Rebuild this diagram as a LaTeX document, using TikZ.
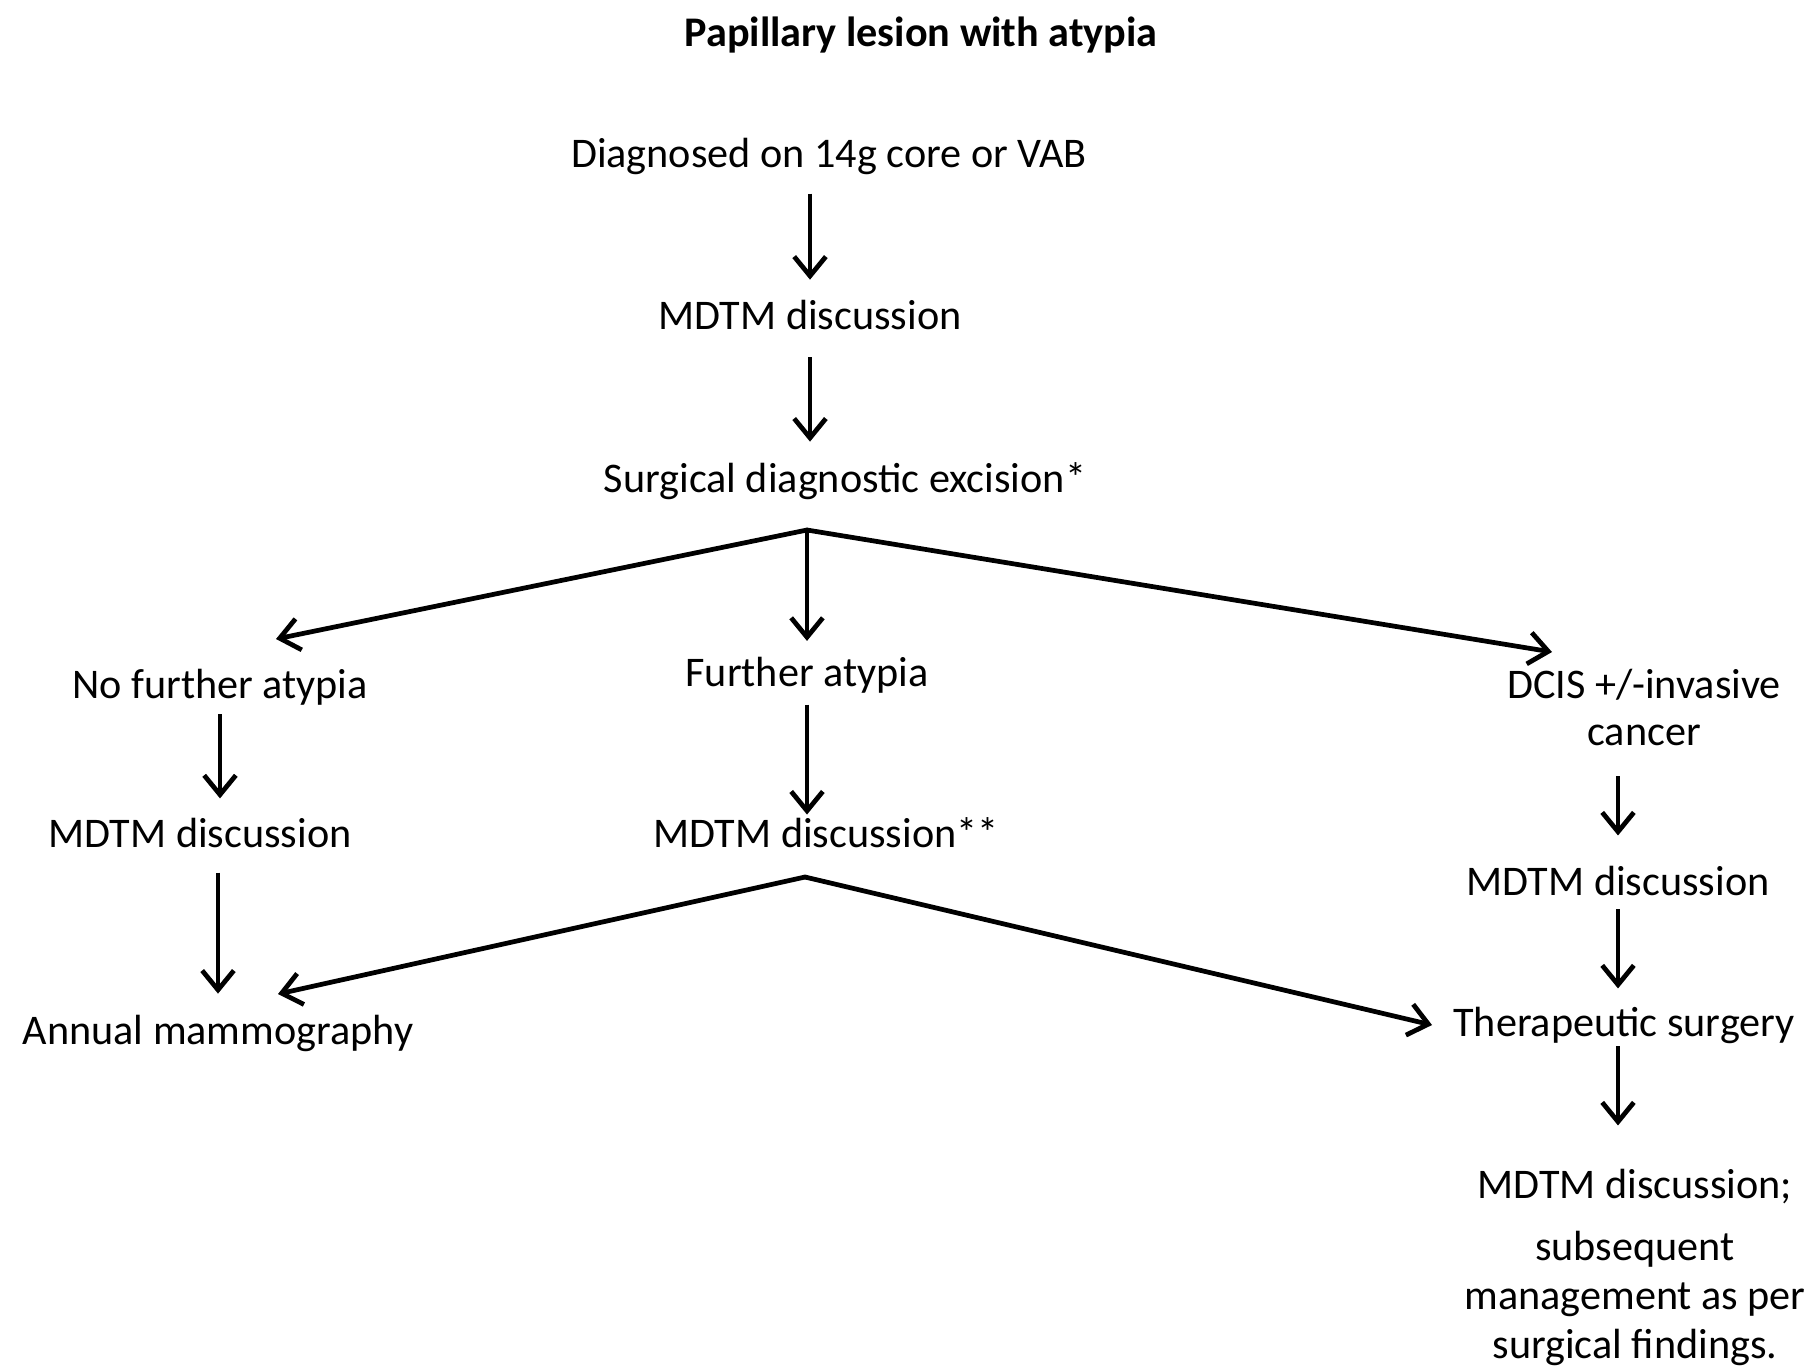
\documentclass[tikz,border=0pt]{standalone}
\usepackage{fontspec}
\setmainfont{Carlito}
\usetikzlibrary{arrows.meta}
\begin{document}
\begin{tikzpicture}[x=0.01cm,y=-0.01cm,
  lbl/.style={inner sep=0pt, font=\fontsize{12}{13.4}\selectfont, text height=0.64em, text depth=0pt},
  mlbl/.style={inner sep=0pt, align=center, font=\fontsize{12}{13.4}\selectfont},
  arr/.style={line width=1.35pt, -{Straight Barb[length=5.5pt,width=9pt]}}]
\useasboundingbox[fill=white] (0,0) rectangle (1816,1366);

\node[lbl, font=\fontsize{12}{13.4}\selectfont\bfseries] (title) at (921,35) {Papillary lesion with atypia};
\node[lbl] (diag) at (829,156) {Diagnosed on 14g core or VAB};
\node[lbl] (mdt1) at (810,318) {MDTM discussion};
\node[lbl] (sde) at (845,481) {Surgical diagnostic excision*};
\node[lbl] (nfa) at (220,687) {No further atypia};
\node[lbl] (fa) at (807,675) {Further atypia};
\node[mlbl, anchor=north] (dcis) at (1644,668) {DCIS +/-invasive\\cancer};
\node[lbl] (mdtL) at (200,836) {MDTM discussion};
\node[lbl] (mdtM) at (826,836) {MDTM discussion**};
\node[lbl] (mdtR) at (1618,884) {MDTM discussion};
\node[lbl] (annual) at (218,1033) {Annual mammography};
\node[lbl] (ther) at (1624,1025) {Therapeutic surgery};
\node[mlbl, anchor=north, font=\fontsize{12}{14}\selectfont] (final) at (1635,1168) {MDTM discussion;\\[3.7pt]subsequent\\management as per\\surgical findings.};

\coordinate (br1) at (807,530);
\coordinate (tnfa) at (276,639);
\coordinate (tdcis) at (1552,652);
\coordinate (br2) at (805,877);
\coordinate (tannual) at (278,994);
\coordinate (tther) at (1432,1025);

\draw[arr, shorten <=7.3pt, shorten >=7.5pt] (diag.south -| mdt1.north) -- (mdt1.north);
\draw[arr, shorten <=7.8pt, shorten >=7.8pt] (mdt1.south) -- (mdt1.south |- sde.north);
\draw[arr, line cap=round] (br1) -- (tnfa);
\draw[arr, shorten >=6.3pt] (br1) -- (fa.north);
\draw[arr, line cap=round] (br1) -- (tdcis);

\draw[arr, shorten <=4.4pt, shorten >=7.3pt] (nfa.south) -- (nfa.south |- mdtL.north);
\draw[arr, shorten <=7pt, shorten >=7.8pt] (mdtL.south -| annual) -- (annual.north);

\draw[arr, shorten <=5pt, shorten >=2.7pt] (fa.south) -- (fa.south |- mdtM.north);
\draw[arr, line cap=round] (br2) -- (tannual);
\draw[arr, line cap=round] (br2) -- (tther);

\draw[arr, shorten <=8.5pt, shorten >=10.4pt] (dcis.south -| mdtR) -- (mdtR.north);
\draw[arr, shorten <=3.8pt, shorten >=7pt] (mdtR.south) -- (mdtR.south |- ther.north);
\draw[arr, shorten <=2.7pt, shorten >=12.1pt] (ther.south -| mdtR) -- (mdtR |- final.north);
\end{tikzpicture}
\end{document}
